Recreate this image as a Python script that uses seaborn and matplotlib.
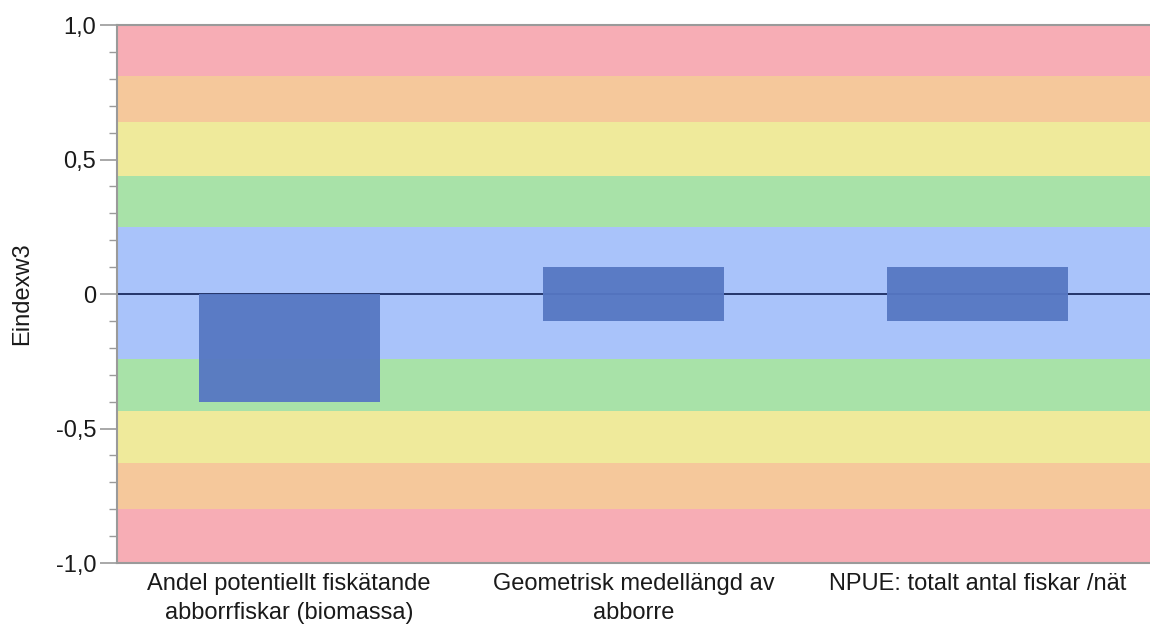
import numpy as np
import pandas as pd
import matplotlib
matplotlib.use("Agg")
import matplotlib.pyplot as plt
import seaborn as sns
from matplotlib.ticker import MultipleLocator, FixedLocator, FuncFormatter

# Indicator categories (x axis)
categories = [
    "Andel potentiellt fiskätande\nabborrfiskar (biomassa)",
    "Geometrisk medellängd av\nabborre",
    "NPUE: totalt antal fiskar /nät",
]
# Lower and upper ends of each indicator bar (Eindexw3)
bar_low = [-0.40, -0.10, -0.10]
bar_high = [0.00, 0.10, 0.10]

# Background class bands: boundaries from bottom to top and their colours
band_edges = [-1.0, -0.80, -0.63, -0.435, -0.24, 0.25, 0.44, 0.64, 0.81, 1.0]
band_colors = ["#F7ADB5", "#F5C89B", "#EFEA9B", "#A8E2A8", "#A9C3FA",
               "#A8E2A8", "#EFEA9B", "#F5C89B", "#F7ADB5"]

y_label = "Eindexw3"

sns.set_theme(style="white")
plt.rcParams["font.family"] = ["Liberation Sans", "DejaVu Sans"]

FS = 17

fig = plt.figure(figsize=(11.5, 6.26), dpi=100)
ax = fig.add_axes([0.1017, 0.1006, 0.8983, 0.8594])

for lo, hi, col in zip(band_edges[:-1], band_edges[1:], band_colors):
    ax.axhspan(lo, hi, color=col, lw=0, zorder=0)

ax.axhline(0, color="#1a2a5e", lw=1.3, zorder=1)

df = pd.DataFrame({"kategori": categories, "low": bar_low, "high": bar_high})
bar_kw = dict(color="#5677C3", width=0.525, linewidth=0, alpha=0.95,
              saturation=1, zorder=2, errorbar=None)
sns.barplot(data=df, x="kategori", y="high", ax=ax, **bar_kw)
sns.barplot(data=df, x="kategori", y="low", ax=ax, **bar_kw)

ax.set_xlim(-0.5, 2.5)
ax.set_ylim(-1.0, 1.0)

ax.yaxis.set_major_locator(FixedLocator([-1.0, -0.5, 0.0, 0.5, 1.0]))
ax.yaxis.set_minor_locator(MultipleLocator(0.1))


def fmt(v, pos):
    if abs(v) < 1e-9:
        return "0"
    return f"{v:.1f}".replace(".", ",")


ax.yaxis.set_major_formatter(FuncFormatter(fmt))
ax.tick_params(axis="y", which="major", length=12, width=1.2, color="#9a9a9a",
               labelsize=FS, pad=3, left=True, labelcolor="#1a1a1a")
ax.tick_params(axis="y", which="minor", length=6, width=1.0, color="#9a9a9a", left=True)
ax.tick_params(axis="x", length=0, labelsize=FS, pad=7, labelcolor="#1a1a1a")
for lbl in ax.get_xticklabels():
    lbl.set_linespacing(1.4)

ax.set_xlabel("")
ax.set_ylabel(y_label, fontsize=FS, labelpad=16, color="#1a1a1a")

for side in ["top", "bottom", "left"]:
    ax.spines[side].set_visible(True)
    ax.spines[side].set_color("#9a9a9a")
    ax.spines[side].set_linewidth(1.5)
ax.spines["right"].set_visible(False)

fig.savefig("out.png", dpi=100)
